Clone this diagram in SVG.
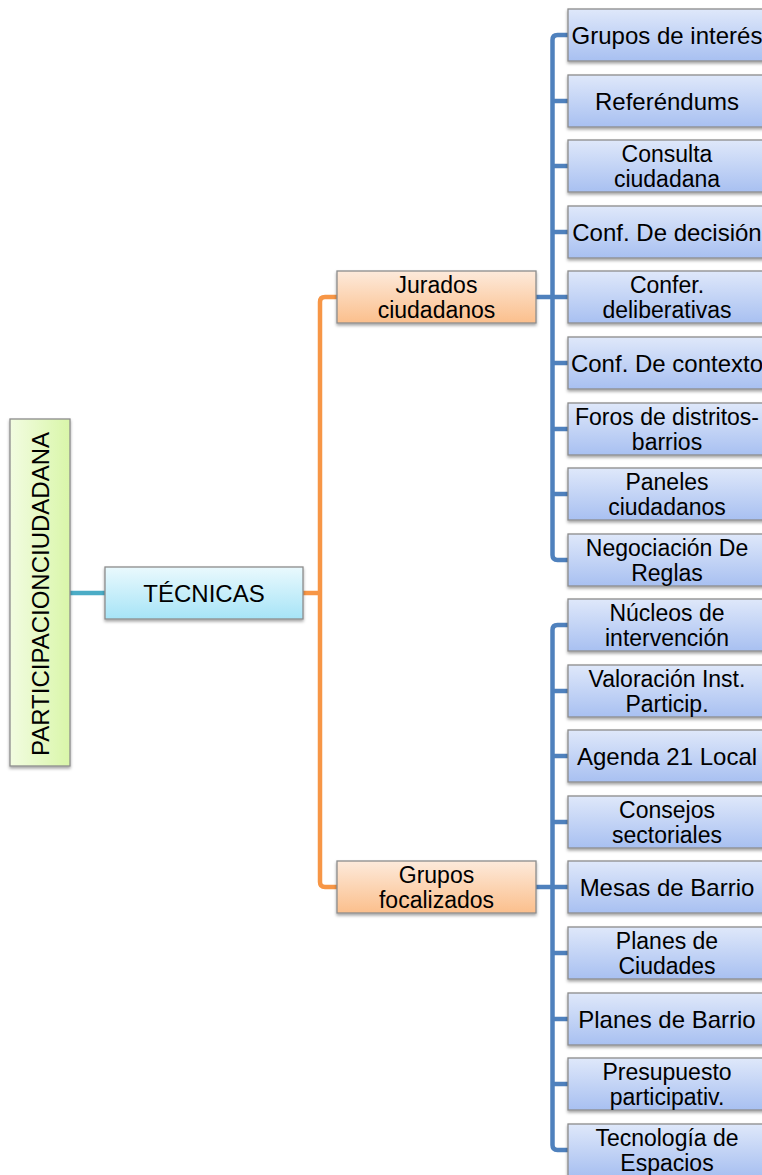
<svg xmlns="http://www.w3.org/2000/svg" width="762" height="1175" viewBox="0 0 762 1175">
<style>
text{font-family:"Liberation Sans",Arial,sans-serif;font-size:24px;fill:#000;text-anchor:middle}
text.two{font-size:23px}
.box{stroke:#8c8c8c;stroke-width:1.3;filter:url(#sh)}
.g{fill:url(#gGreen)}
.c{fill:url(#gCyan)}
.o{fill:url(#gOrange)}
.b{fill:url(#gBlue)}
.ct{fill:none;stroke:#4bacc6;stroke-width:4.5}
.co{fill:none;stroke:#f79646;stroke-width:4.5}
.cb{fill:none;stroke:#4f81bd;stroke-width:4.5}
</style>
<defs>
<linearGradient id="gGreen" x1="0" y1="0" x2="1" y2="0"><stop offset="0" stop-color="#f2fce1"/><stop offset="1" stop-color="#d9f6a9"/></linearGradient>
<linearGradient id="gCyan" x1="0" y1="0" x2="0" y2="1"><stop offset="0" stop-color="#eaf9fd"/><stop offset="1" stop-color="#a6e4f7"/></linearGradient>
<linearGradient id="gOrange" x1="0" y1="0" x2="0" y2="1"><stop offset="0" stop-color="#fdeadb"/><stop offset="1" stop-color="#fbbf8c"/></linearGradient>
<linearGradient id="gBlue" x1="0" y1="0" x2="0" y2="1"><stop offset="0" stop-color="#dfe8fa"/><stop offset="1" stop-color="#a8c0f1"/></linearGradient>
<filter id="sh" x="-10%" y="-20%" width="130%" height="150%"><feDropShadow dx="0" dy="2" stdDeviation="1.8" flood-color="#000" flood-opacity="0.35"/></filter>
</defs>

<g id="connectors">
<path class="ct" d="M70 593 H105"/>
<path class="co" d="M303 593 H320"/>
<path class="co" d="M337 297 H325 Q320 297 320 302 V882 Q320 887 325 887 H337"/>
<path class="cb" d="M536 297 H552.5"/>
<path class="cb" d="M568 35 H557.5 Q552.5 35 552.5 40 V555 Q552.5 560 557.5 560 H568"/>
<path class="cb" d="M552.5 101 H568 M552.5 166 H568 M552.5 232 H568 M552.5 297 H568 M552.5 363 H568 M552.5 429 H568 M552.5 494 H568"/>
<path class="cb" d="M536 887 H552.5"/>
<path class="cb" d="M568 625 H557.5 Q552.5 625 552.5 630 V1145 Q552.5 1150 557.5 1150 H568"/>
<path class="cb" d="M552.5 691 H568 M552.5 756 H568 M552.5 822 H568 M552.5 887 H568 M552.5 953 H568 M552.5 1019 H568 M552.5 1084 H568"/>
</g>

<g id="root"><rect class="box g" x="10" y="419" width="60" height="347"/><text transform="translate(40 594) rotate(-90)" y="8.5">PARTICIPACIONCIUDADANA</text></g>
<g id="tecnicas"><rect class="box c" x="105" y="567" width="198" height="52"/><text x="204" y="601.5">TÉCNICAS</text></g>
<g id="jurados"><rect class="box o" x="337" y="271" width="199" height="52"/><text class="two" x="436.5" y="292.5">Jurados<tspan x="436.5" dy="25">ciudadanos</tspan></text></g>
<g id="focalizados"><rect class="box o" x="337" y="861" width="199" height="52"/><text class="two" x="436.5" y="882.5">Grupos<tspan x="436.5" dy="25">focalizados</tspan></text></g>

<g id="n1"><rect class="box b" x="568" y="9" width="200" height="52"/><text x="667" y="43.5">Grupos de interés</text></g>
<g id="n2"><rect class="box b" x="568" y="75" width="200" height="52"/><text x="667" y="109.5">Referéndums</text></g>
<g id="n3"><rect class="box b" x="568" y="140" width="200" height="52"/><text class="two" x="667" y="161.5">Consulta<tspan x="667" dy="25">ciudadana</tspan></text></g>
<g id="n4"><rect class="box b" x="568" y="206" width="200" height="52"/><text x="667" y="240.5">Conf. De decisión</text></g>
<g id="n5"><rect class="box b" x="568" y="271" width="200" height="52"/><text class="two" x="667" y="292.5">Confer.<tspan x="667" dy="25">deliberativas</tspan></text></g>
<g id="n6"><rect class="box b" x="568" y="337" width="200" height="52"/><text x="667" y="371.5">Conf. De contexto</text></g>
<g id="n7"><rect class="box b" x="568" y="403" width="200" height="52"/><text class="two" x="667" y="424.5">Foros de distritos-<tspan x="667" dy="25">barrios</tspan></text></g>
<g id="n8"><rect class="box b" x="568" y="468" width="200" height="52"/><text class="two" x="667" y="489.5">Paneles<tspan x="667" dy="25">ciudadanos</tspan></text></g>
<g id="n9"><rect class="box b" x="568" y="534" width="200" height="52"/><text class="two" x="667" y="555.5">Negociación De<tspan x="667" dy="25">Reglas</tspan></text></g>

<g id="m1"><rect class="box b" x="568" y="599" width="200" height="52"/><text class="two" x="667" y="620.5">Núcleos de<tspan x="667" dy="25">intervención</tspan></text></g>
<g id="m2"><rect class="box b" x="568" y="665" width="200" height="52"/><text class="two" x="667" y="686.5">Valoración Inst.<tspan x="667" dy="25">Particip.</tspan></text></g>
<g id="m3"><rect class="box b" x="568" y="730" width="200" height="52"/><text x="667" y="764.5">Agenda 21 Local</text></g>
<g id="m4"><rect class="box b" x="568" y="796" width="200" height="52"/><text class="two" x="667" y="817.5">Consejos<tspan x="667" dy="25">sectoriales</tspan></text></g>
<g id="m5"><rect class="box b" x="568" y="861" width="200" height="52"/><text x="667" y="895.5">Mesas de Barrio</text></g>
<g id="m6"><rect class="box b" x="568" y="927" width="200" height="52"/><text class="two" x="667" y="948.5">Planes de<tspan x="667" dy="25">Ciudades</tspan></text></g>
<g id="m7"><rect class="box b" x="568" y="993" width="200" height="52"/><text x="667" y="1027.5">Planes de Barrio</text></g>
<g id="m8"><rect class="box b" x="568" y="1058" width="200" height="52"/><text class="two" x="667" y="1079.5">Presupuesto<tspan x="667" dy="25">participativ.</tspan></text></g>
<g id="m9"><rect class="box b" x="568" y="1124" width="200" height="52"/><text class="two" x="667" y="1145.5">Tecnología de<tspan x="667" dy="25">Espacios</tspan></text></g>
</svg>
